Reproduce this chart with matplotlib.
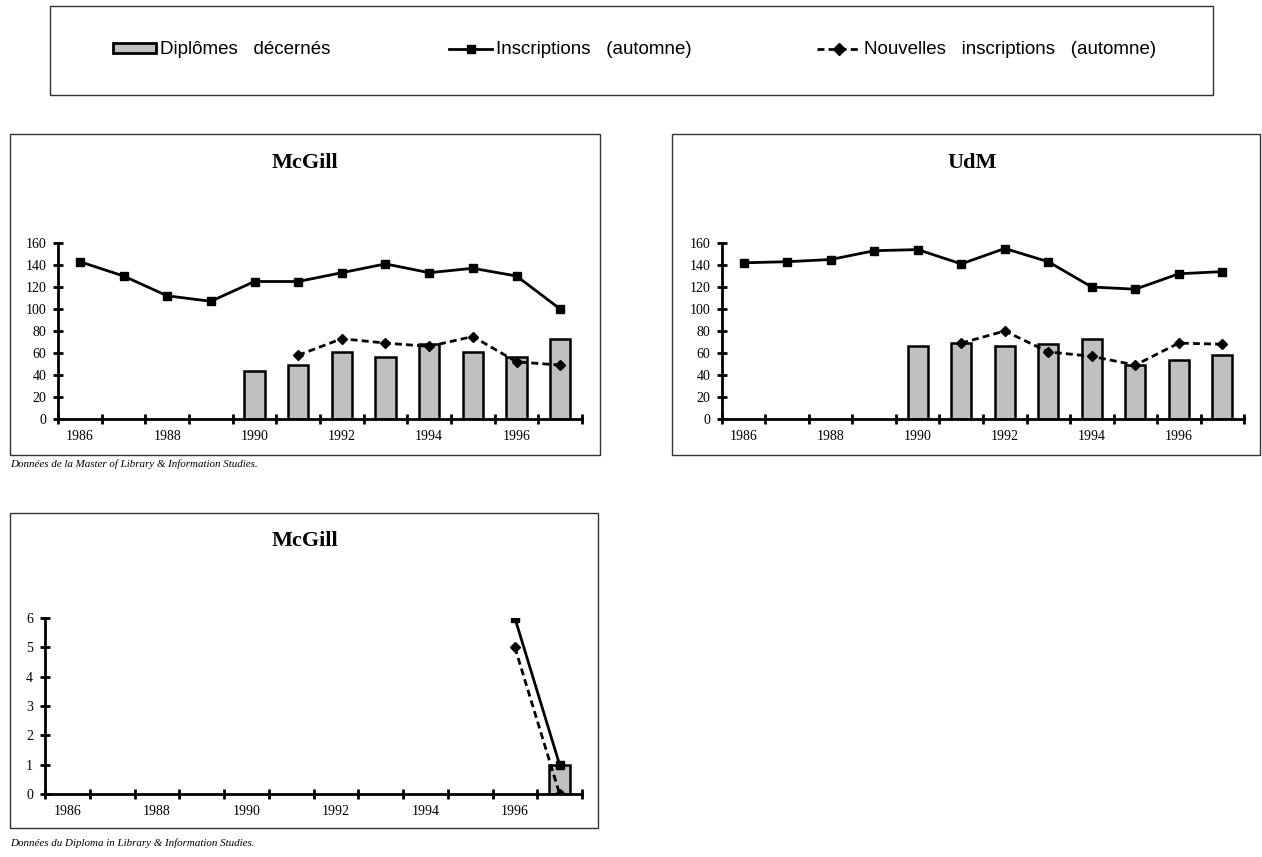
import matplotlib
matplotlib.use("Agg")
import matplotlib.pyplot as plt
from matplotlib.patches import Rectangle, Patch
from matplotlib.lines import Line2D
import numpy as np

years = [1986, 1987, 1988, 1989, 1990, 1991, 1992, 1993, 1994, 1995, 1996, 1997]
year_labels = ["1986", "1988", "1990", "1992", "1994", "1996"]

# McGill - Master of Library & Information Studies
mcgill_ins = [143, 130, 112, 107, 125, 125, 133, 141, 133, 137, 130, 100]
mcgill_new = [None, None, None, None, None, 58, 73, 69, 66, 75, 52, 49]
mcgill_dip = [None, None, None, None, 44, 49, 61, 56, 68, 61, 56, 73]

# UdM
udm_ins = [142, 143, 145, 153, 154, 141, 155, 143, 120, 118, 132, 134]
udm_new = [None, None, None, None, None, 69, 80, 61, 57, 49, 69, 68]
udm_dip = [None, None, None, None, 66, 69, 66, 68, 73, 49, 54, 58]

# McGill - Diploma in Library & Information Studies
dip_ins = [None] * 10 + [6, 1]
dip_new = [None] * 10 + [5, 0]
dip_dip = [None] * 11 + [1]

legend_labels = ["Diplômes   décernés", "Inscriptions   (automne)",
                 "Nouvelles   inscriptions   (automne)"]

W, H = 1262, 857
fig = plt.figure(figsize=(W / 100, H / 100), dpi=100)
serif = ["Liberation Serif", "DejaVu Serif"]
sans = ["Liberation Sans", "DejaVu Sans"]

def fx(px):
    return px / W

def fy(py):
    return 1 - py / H

def box(x0, y0, x1, y1):
    fig.patches.append(Rectangle((fx(x0), fy(y1)), fx(x1) - fx(x0), fy(y0) - fy(y1),
                                 transform=fig.transFigure, fill=False, edgecolor="#333333",
                                 linewidth=1.0))

def to_arr(v):
    return np.array([np.nan if x is None else x for x in v], dtype=float)

NEW_DASH = (0, (2.5, 1.5))

def panel(rect, ins, new, dip, ymax, ystep):
    ax = fig.add_axes(rect)
    x = np.arange(len(years))
    d = to_arr(dip)
    m = ~np.isnan(d)
    ax.bar(x[m], d[m], width=0.46, color="#c0c0c0", edgecolor="black", linewidth=1.8, zorder=2)
    ax.plot(x, to_arr(ins), color="black", linewidth=2.0, marker="s", markersize=6, zorder=3)
    ax.plot(x, to_arr(new), color="black", linewidth=2.0, linestyle=NEW_DASH,
            marker="D", markersize=5.5, zorder=3)
    ax.set_xlim(-0.5, len(years) - 0.5)
    ax.set_ylim(0, ymax)
    for s in ["top", "right"]:
        ax.spines[s].set_visible(False)
    for s in ["left", "bottom"]:
        ax.spines[s].set_linewidth(2.0)
    ax.set_xticks(np.arange(-0.5, len(years) + 0.5, 1.0))
    ax.set_xticklabels([])
    ax.tick_params(axis="x", which="major", direction="inout", length=7, width=2)
    ax.set_xticks(np.arange(0, len(years), 2), minor=True)
    ax.set_xticklabels(year_labels, minor=True, fontfamily=serif, fontsize=10)
    ax.tick_params(axis="x", which="minor", length=0, pad=8)
    ax.set_yticks(np.arange(0, ymax + 0.1, ystep))
    ax.tick_params(axis="y", direction="inout", length=7, width=2, labelsize=10, pad=5)
    for lab in ax.get_yticklabels():
        lab.set_fontfamily(serif)
    ax.patch.set_alpha(0)
    return ax

# Legend box
box(50, 6, 1213, 95)
leg_specs = [
    (Patch(facecolor="#c0c0c0", edgecolor="black", linewidth=2.0), legend_labels[0], 113),
    (Line2D([], [], color="black", linewidth=2.0, marker="s", markersize=6), legend_labels[1], 449),
    (Line2D([], [], color="black", linewidth=2.0, linestyle=NEW_DASH, marker="D", markersize=6),
     legend_labels[2], 817),
]
for h, lab, px in leg_specs:
    lg = fig.legend([h], [lab], loc="center left", bbox_to_anchor=(fx(px), fy(50)),
                    frameon=False, prop={"family": sans, "size": 13.5},
                    handlelength=2.3, handleheight=0.5, handletextpad=0.2,
                    borderpad=0, borderaxespad=0)

# Top-left McGill
box(10, 134, 600, 455)
panel([fx(58), fy(419), fx(582) - fx(58), fy(243) - fy(419)], mcgill_ins, mcgill_new, mcgill_dip,
      160, 20)
fig.text(fx(305), fy(163), "McGill", ha="center", va="center", fontfamily=serif,
         fontsize=16, fontweight="bold")
fig.text(fx(10), fy(464), "Données de la Master of Library & Information Studies.", ha="left",
         va="center", fontfamily=serif, fontsize=7.9, style="italic")

# Top-right UdM
box(672, 134, 1260, 455)
panel([fx(722), fy(419), fx(1244) - fx(722), fy(243) - fy(419)], udm_ins, udm_new, udm_dip,
      160, 20)
fig.text(fx(972), fy(163), "UdM", ha="center", va="center", fontfamily=serif,
         fontsize=16, fontweight="bold")

# Bottom McGill
box(10, 513, 598, 828)
panel([fx(45), fy(794), fx(582) - fx(45), fy(618) - fy(794)], dip_ins, dip_new, dip_dip, 6, 1)
fig.text(fx(305), fy(541), "McGill", ha="center", va="center", fontfamily=serif,
         fontsize=16, fontweight="bold")
fig.text(fx(10), fy(843), "Données du Diploma in Library & Information Studies.", ha="left",
         va="center", fontfamily=serif, fontsize=7.9, style="italic")

fig.savefig("out.png", dpi=100)
